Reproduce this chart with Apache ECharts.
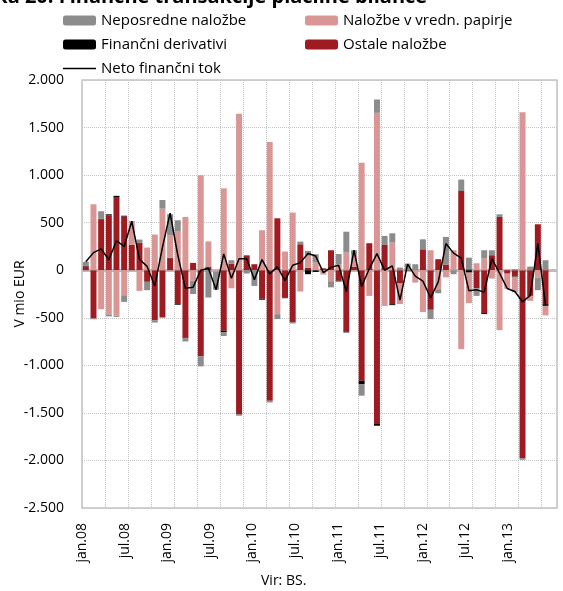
<!DOCTYPE html>
<html>
<head>
<meta charset="utf-8">
<script src="https://cdn.jsdelivr.net/npm/echarts@6/dist/echarts.min.js"></script>
<style>
  body { margin: 0; background: #fff; }
  #mainChart { width: 563px; height: 591px; }
</style>
</head>
<body>
<div id="mainChart"></div>
<script>
// mesečni podatki, jan.08 - feb.13 (mio EUR)
var months = [];
var yrs = ['08', '09', '10', '11', '12', '13'];
var mNames = ['jan.', 'feb.', 'mar.', 'apr.', 'maj.', 'jun.', 'jul.', 'avg.', 'sep.', 'okt.', 'nov.', 'dec.'];
for (var y = 0; y < yrs.length; y++) {
  for (var m = 0; m < 12; m++) {
    if (months.length < 62) months.push(mNames[m] + yrs[y]);
  }
}

var tickLabels = ['jan.08', 'jul.08', 'jan.09', 'jul.09', 'jan.10', 'jul.10', 'jan.11', 'jul.11', 'jan.12', 'jul.12', 'jan.13'];

var ostale = [40, -508, 535, 578, 770, 565, 266, 280, -122, -525,
  -497, 126, -357, -707, 77, -906, 30, 0, -637, 70,
  -1512, 150, 63, -300, -1372, 546, -287, -550, 273, 25,
  0, 20, 210, -110, -644, 35, -1162, 284, -1617, 266,
  -357, -140, 0, 0, 220, -416, 116, 60, 0, 833,
  10, -190, -451, 158, 560, -30, -60, -1975, -270, 483,
  -357, null];

var derivativi = [8, 0, 5, 10, 12, 8, 0, 7, 0, 0,
  0, 5, -7, -7, 0, 0, 8, 0, -15, 0,
  0, 5, 0, -10, 0, 0, -7, 0, 0, -42,
  -18, 0, 0, -8, -10, 0, -35, 0, -18, 0,
  -10, 0, -5, 0, 0, 0, 0, 0, 0, 5,
  -25, 0, -10, 0, 0, -5, -8, 0, 0, 0,
  -18, null];

var papirji = [0, 693, -410, -465, -480, -263, 240, -217, 238, 375,
  647, 235, 406, 560, -110, 998, 265, -15, 861, -190,
  1645, 0, 0, 420, 1348, -462, 196, 606, -224, 126,
  80, -45, -115, 60, 185, 130, 1130, -270, 1655, -375,
  290, -215, 5, -130, -440, 210, -200, -75, 210, -830,
  -320, 73, 122, -88, -630, -160, -165, 1660, -52, -77,
  -100, null];

var neposredne = [40, -7, 80, -20, -10, -70, 10, 35, -88, -25,
  91, 224, 119, -35, -140, -105, -287, -190, -40, 35,
  -18, -35, -165, 0, -18, -52, 0, -10, 28, 52,
  88, 0, -65, 110, 220, 45, -122, 0, 140, 95,
  98, 28, 65, 63, 105, -98, -42, 290, -42, 115,
  122, -80, 88, 52, 28, 0, 10, -18, 38, -133,
  105, null];

var neto = [90, 185, 225, 110, 310, 250, 515, 115, 40, -165,
  240, 600, 160, -190, -178, 0, 20, -205, 172, -85,
  120, 120, -100, 112, -38, 35, -110, 52, 80, 175,
  150, -25, 30, 52, -225, 210, -170, 15, 175, 0,
  45, -315, 65, -62, -115, -290, -122, 280, 180, 128,
  -215, -205, -230, 122, -30, -192, -224, -332, -265, 280,
  -368, null];

function chartInit() {
  var myChart = echarts.init(document.getElementById('mainChart'));
  var font = 'Open Sans';

  function fmt(v) {
    var s = String(Math.abs(v));
    if (s.length > 3) s = s.slice(0, s.length - 3) + '.' + s.slice(s.length - 3);
    return (v < 0 ? '-' : '') + s;
  }

  function barSeries(name, data, color) {
    return {
      name: name,
      type: 'bar',
      stack: 'total',
      barCategoryGap: '22%',
      data: data,
      itemStyle: { color: color }
    };
  }

  var legendText = { fontSize: 15, color: '#000', fontFamily: font };

  var option = {
    animation: false,
    textStyle: { fontFamily: font },
    graphic: [
      {
        type: 'text', left: -28, top: -13,
        style: { text: 'Slika 20: Finančne transakcije plačilne bilance', font: 'bold 20px "Open Sans"', fill: '#000' }
      },
      {
        type: 'text', left: 261, top: 574,
        style: { text: 'Vir: BS.', font: '14px "Open Sans"', fill: '#000' }
      }
    ],
    legend: [
      {
        left: 58, top: 8, orient: 'vertical', itemWidth: 33, itemHeight: 10, itemGap: 9,
        symbolKeepAspect: true,
        data: ['Neposredne naložbe', 'Finančni derivativi',
          { name: 'Neto finančni tok', icon: 'path://M0,0 L33,0 L33,1.5 L0,1.5 Z' }],
        textStyle: legendText
      },
      {
        left: 300, top: 8, orient: 'vertical', itemWidth: 33, itemHeight: 10, itemGap: 9,
        data: ['Naložbe v vredn. papirje', 'Ostale naložbe'],
        textStyle: legendText
      }
    ],
    grid: {
      left: 82, right: 6, top: 80, bottom: 83,
      outerBoundsMode: 'none',
      show: true, borderColor: '#c4c4c4', borderWidth: 1.5
    },
    xAxis: [
      {
        type: 'category',
        data: months,
        axisLine: { show: false },
        axisTick: { show: false },
        axisLabel: { show: false },
        splitLine: { show: true, interval: 2, lineStyle: { color: '#c4c4c4', type: 'dotted' } }
      },
      {
        // samo za oznake meseca
        type: 'value',
        position: 'bottom',
        min: 0, max: 11.15, interval: 1,
        axisLine: { show: false },
        axisTick: { show: false },
        splitLine: { show: false },
        axisLabel: {
          rotate: 90, margin: 15, fontSize: 14, color: '#000', fontFamily: font,
          showMaxLabel: false,
          formatter: function (v) {
            return (v % 1 === 0 && tickLabels[v]) ? tickLabels[v] : '';
          }
        }
      }
    ],
    yAxis: {
      type: 'value',
      min: -2500, max: 2000, interval: 500,
      name: 'V mio EUR',
      nameLocation: 'middle',
      nameGap: 55,
      nameMoveOverlap: false,
      nameTextStyle: { fontSize: 14, color: '#000', fontFamily: font },
      axisLine: { show: false },
      axisTick: { show: false },
      axisLabel: { fontSize: 14, color: '#000', margin: 18, fontFamily: font, formatter: fmt },
      splitLine: { lineStyle: { color: '#c4c4c4', type: 'dotted' } }
    },
    series: [
      barSeries('Ostale naložbe', ostale, '#9e1b21'),
      barSeries('Finančni derivativi', derivativi, '#000000'),
      barSeries('Naložbe v vredn. papirje', papirji, '#d99694'),
      barSeries('Neposredne naložbe', neposredne, '#8c8c8c'),
      {
        name: 'Neto finančni tok',
        type: 'line',
        data: neto,
        symbol: 'none',
        lineStyle: { color: '#000', width: 1.5 },
        itemStyle: { color: '#000' },
        z: 5,
        markLine: {
          silent: true,
          symbol: 'none',
          label: { show: false },
          lineStyle: { color: '#bdbdbd', width: 3, type: 'solid' },
          data: [{ yAxis: 0 }],
          z: 1
        }
      }
    ]
  };
  myChart.setOption(option);
}

chartInit();
</script>
</body>
</html>
